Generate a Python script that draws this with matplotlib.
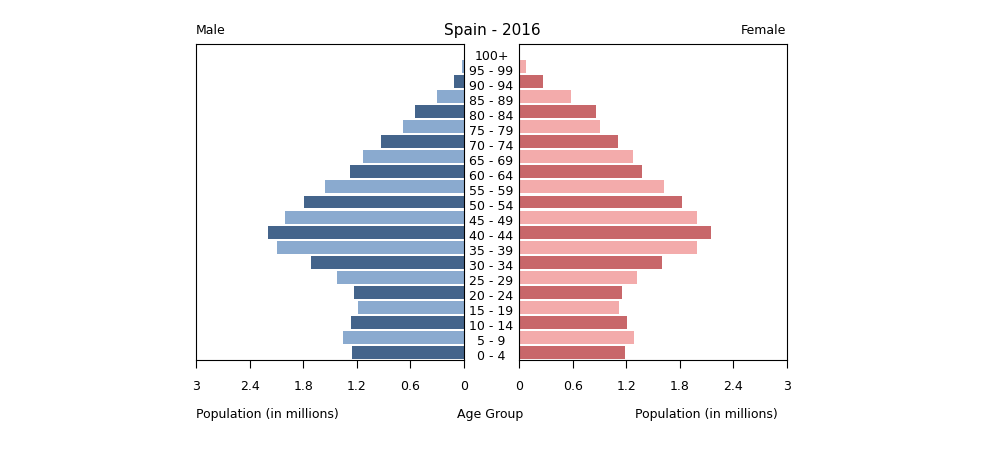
import matplotlib
matplotlib.use("Agg")
import matplotlib.pyplot as plt

# Data (population in millions)
age_groups = ["0 - 4", "5 - 9", "10 - 14", "15 - 19", "20 - 24", "25 - 29", "30 - 34",
              "35 - 39", "40 - 44", "45 - 49", "50 - 54", "55 - 59", "60 - 64", "65 - 69",
              "70 - 74", "75 - 79", "80 - 84", "85 - 89", "90 - 94", "95 - 99", "100+"]
male = [1.25, 1.355, 1.265, 1.19, 1.23, 1.42, 1.71, 2.09, 2.19, 2.00, 1.79,
        1.56, 1.28, 1.13, 0.93, 0.68, 0.55, 0.30, 0.11, 0.02, 0.003]
female = [1.19, 1.29, 1.21, 1.12, 1.15, 1.32, 1.60, 1.99, 2.15, 1.99, 1.82,
          1.62, 1.38, 1.28, 1.11, 0.91, 0.86, 0.58, 0.27, 0.08, 0.01]
ticks = [0, 0.6, 1.2, 1.8, 2.4, 3]
tick_labels = ["0", "0.6", "1.2", "1.8", "2.4", "3"]

male_cols = ["#44648b", "#8aaacf"]
female_cols = ["#c8676a", "#f3abab"]

fig = plt.figure(figsize=(10, 4.6), dpi=100)
W, H = 1000, 460
axl = fig.add_axes([196 / W, 1 - 361 / H, 268 / W, 316 / H])
axr = fig.add_axes([519 / W, 1 - 361 / H, 268 / W, 316 / H])

y = list(range(len(age_groups)))
axl.barh(y, male, height=0.86, color=[male_cols[i % 2] for i in y])
axr.barh(y, female, height=0.86, color=[female_cols[i % 2] for i in y])

for ax in (axl, axr):
    ax.set_ylim(-0.5, len(age_groups) - 0.5)
    ax.set_xlim(0, 3)
    ax.set_yticks([])
    ax.set_xticks(ticks)
    ax.set_xticklabels(tick_labels, fontsize=9)
    ax.tick_params(axis="x", direction="out", length=6, pad=8, width=0.8)
    for s in ax.spines.values():
        s.set_linewidth(0.8)
axl.invert_xaxis()

# age labels in the gap
for i, lab in enumerate(age_groups):
    fig.text(491.5 / W, 1 - (356.5 - 15 * i) / H, lab, ha="center", va="center", fontsize=9)

fig.text(492 / W, 1 - 30 / H, "Spain - 2016", ha="center", va="center", fontsize=11)
fig.text(196 / W, 1 - 31 / H, "Male", ha="left", va="center", fontsize=9)
fig.text(786 / W, 1 - 31 / H, "Female", ha="right", va="center", fontsize=9)
fig.text(196 / W, 1 - 415 / H, "Population (in millions)", ha="left", va="center", fontsize=9)
fig.text(490 / W, 1 - 415 / H, "Age Group", ha="center", va="center", fontsize=9)
fig.text(778 / W, 1 - 415 / H, "Population (in millions)", ha="right", va="center", fontsize=9)

fig.savefig("out.png", dpi=100)
